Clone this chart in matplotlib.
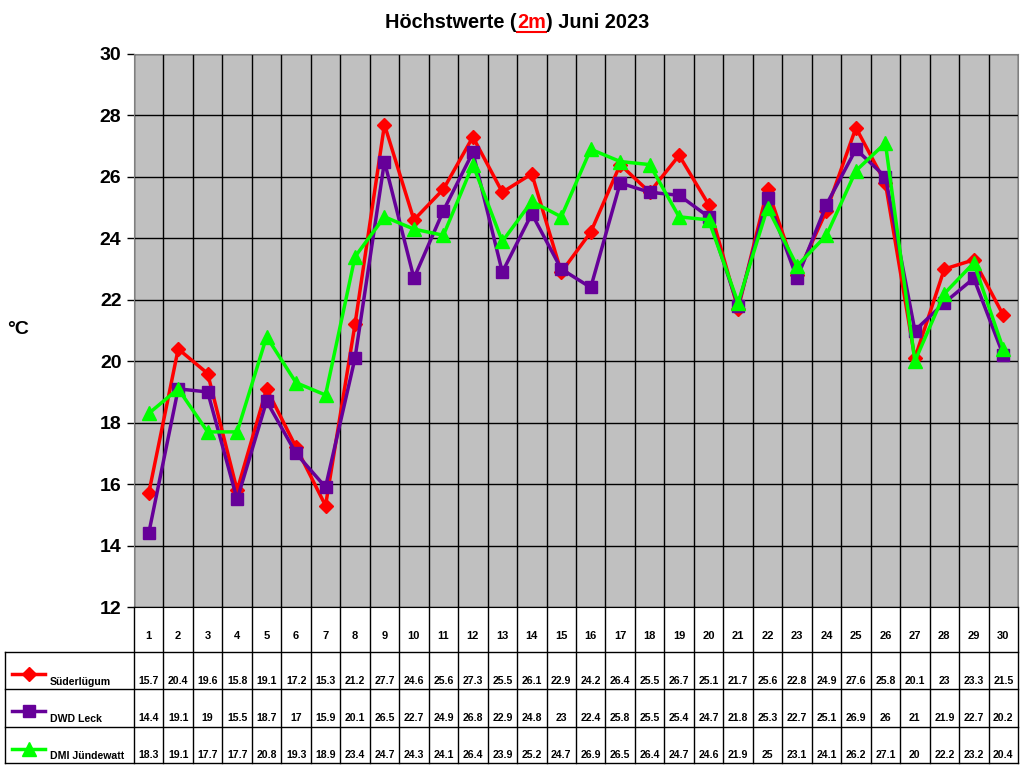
import matplotlib.pyplot as plt
import numpy as np
from matplotlib.transforms import blended_transform_factory

days = list(range(1, 31))
suederluegum = [15.7, 20.4, 19.6, 15.8, 19.1, 17.2, 15.3, 21.2, 27.7, 24.6,
                25.6, 27.3, 25.5, 26.1, 22.9, 24.2, 26.4, 25.5, 26.7, 25.1,
                21.7, 25.6, 22.8, 24.9, 27.6, 25.8, 20.1, 23, 23.3, 21.5]
dwd_leck = [14.4, 19.1, 19, 15.5, 18.7, 17, 15.9, 20.1, 26.5, 22.7,
            24.9, 26.8, 22.9, 24.8, 23, 22.4, 25.8, 25.5, 25.4, 24.7,
            21.8, 25.3, 22.7, 25.1, 26.9, 26, 21, 21.9, 22.7, 20.2]
dmi_juendewatt = [18.3, 19.1, 17.7, 17.7, 20.8, 19.3, 18.9, 23.4, 24.7, 24.3,
                  24.1, 26.4, 23.9, 25.2, 24.7, 26.9, 26.5, 26.4, 24.7, 24.6,
                  21.9, 25, 23.1, 24.1, 26.2, 27.1, 20, 22.2, 23.2, 20.4]
series_names = ["Süderlügum", "DWD Leck", "DMI Jündewatt"]
y_ticks = [12, 14, 16, 18, 20, 22, 24, 26, 28, 30]

series = [suederluegum, dwd_leck, dmi_juendewatt]
colors = ["#FF0000", "#660099", "#00FF00"]
markers = ["D", "s", "^"]
msizes = [7, 8.5, 9.5]

plt.rcParams['font.family'] = ['Liberation Sans', 'DejaVu Sans']
plt.rcParams['font.weight'] = 'bold'

W, H = 1024, 768
fig = plt.figure(figsize=(W / 100, H / 100), dpi=100)


def fx(px):
    return px / W


def fy(py):
    return 1 - py / H


ax = fig.add_axes([fx(134), fy(607), (1018 - 134) / W, (607 - 54) / H])
ax.set_facecolor('#C0C0C0')
ax.set_xlim(0.5, 30.5)
ax.set_ylim(12, 30)
ax.set_yticks(y_ticks)
ax.set_yticklabels([str(t) for t in y_ticks], fontsize=14, fontweight='bold')
ax.set_xticks(days)
ax.set_xticks(np.arange(0.5, 31, 1), minor=True)
ax.tick_params(axis='x', which='both', length=0, labelbottom=False)
ax.tick_params(axis='y', length=5, width=1, color='black', pad=4)
ax.grid(True, which='minor', axis='x', color='black', linewidth=1)
ax.grid(True, which='major', axis='y', color='black', linewidth=1)
ax.set_axisbelow(True)
for side in ['top', 'right', 'left']:
    ax.spines[side].set_color('#808080')
ax.spines['bottom'].set_color('black')

for vals, col, mk, ms in zip(series, colors, markers, msizes):
    ax.plot(days, vals, color=col, linewidth=2.5, marker=mk, markersize=ms,
            markerfacecolor=col, markeredgecolor=col, clip_on=False, zorder=3)

fig.text(fx(18), fy(330), "°C", fontsize=14, fontweight='bold',
         ha='center', va='center')

# title with red underlined "2m"
parts = [("Höchstwerte (", 'black'), ("2m", '#FF0000'), (") Juni 2023", 'black')]
renderer = fig.canvas.get_renderer()
texts = []
for s, c in parts:
    t = fig.text(0, fy(22), s, fontsize=14.3, fontweight='bold', color=c,
                 va='center', ha='left')
    texts.append(t)
widths = [t.get_window_extent(renderer).width for t in texts]
x0 = 517 - sum(widths) / 2
for t, w in zip(texts, widths):
    t.set_x(fx(x0))
    if t.get_color() == '#FF0000':
        fig.add_artist(plt.Line2D([fx(x0), fx(x0 + w)], [fy(32), fy(32)],
                                  color='#FF0000', linewidth=1.5))
    x0 += w

# data table below the plot
tr = blended_transform_factory(ax.transData, fig.transFigure)
row_edges = [607, 652, 689, 727, 763]
for b in np.arange(0.5, 31, 1):
    fig.add_artist(plt.Line2D([b, b], [fy(607), fy(763)], color='black',
                              linewidth=1, transform=tr))
for py in row_edges[1:]:
    fig.add_artist(plt.Line2D([fx(5), fx(1018)], [fy(py), fy(py)],
                              color='black', linewidth=1))
fig.add_artist(plt.Line2D([fx(5), fx(5)], [fy(652), fy(763)],
                          color='black', linewidth=1))

for d in days:
    fig.text(d, fy(636), str(d), transform=tr, fontsize=8,
             fontweight='bold', ha='center', va='center')

row_text_y = [681, 718, 755]
legend_line_y = [674, 711, 749]
for i, vals in enumerate(series):
    for d, v in zip(days, vals):
        fig.text(d, fy(row_text_y[i]), f"{v:g}", transform=tr, fontsize=7.6,
                 fontweight='bold', ha='center', va='center')
    fig.add_artist(plt.Line2D([fx(12), fx(45)], [fy(legend_line_y[i])] * 2,
                              color=colors[i], linewidth=2.5))
    fig.add_artist(plt.Line2D([fx(29)], [fy(legend_line_y[i])],
                              color=colors[i], marker=markers[i],
                              markersize=msizes[i], markerfacecolor=colors[i],
                              markeredgecolor=colors[i]))
    fig.text(fx(50), fy(row_text_y[i] + 1), series_names[i], fontsize=7.6,
             fontweight='bold', ha='left', va='center')

fig.savefig('out.png', dpi=100)
